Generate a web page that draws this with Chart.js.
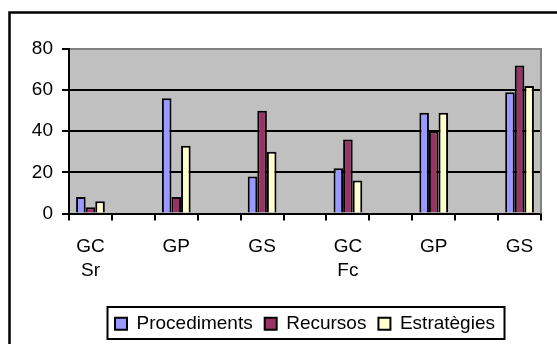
<!DOCTYPE html>
<html>
<head>
<meta charset="utf-8">
<script src="https://cdn.jsdelivr.net/npm/chart.js@4/dist/chart.umd.min.js"></script>
<style>
  html, body { margin: 0; padding: 0; background: #fff; overflow: hidden; }
  canvas { display: block; }
</style>
</head>
<body>
<canvas id="chart" width="557" height="344"></canvas>
<script>
// Categories: one group per pair of letters, with empty slots between groups
const categories = [["GC", "Sr"], "", "GP", "", "GS", "", ["GC", "Fc"], "", "GP", "", "GS"];
const procediments = [8, null, 56, null, 18, null, 22, null, 49, null, 59];
const recursos = [3, null, 8, null, 50, null, 36, null, 40, null, 72];
const estrategies = [6, null, 33, null, 30, null, 16, null, 49, null, 62];
const yTicks = [0, 20, 40, 60, 80];

const FONT = { family: "'Liberation Sans', Arial, sans-serif", size: 19, lineHeight: 1.27 };

// Plot background, outer frame and the grey top/right plot border
const framePlugin = {
  id: 'frame',
  beforeDraw(chart) {
    const { ctx, chartArea: a } = chart;
    ctx.save();
    ctx.fillStyle = '#ffffff';
    ctx.fillRect(0, 0, chart.width, chart.height);
    ctx.fillStyle = '#c0c0c0';
    ctx.fillRect(a.left, a.top, a.right - a.left, a.bottom - a.top);
    ctx.strokeStyle = '#000';
    ctx.lineWidth = 2.5;
    ctx.strokeRect(9.5, 12.5, chart.width + 40, chart.height + 40);
    ctx.restore();
  },
  beforeDatasetsDraw(chart) {
    const { ctx, chartArea: a } = chart;
    ctx.save();
    ctx.strokeStyle = '#808080';
    ctx.lineWidth = 2;
    ctx.beginPath();
    ctx.moveTo(a.right, a.top - 1);
    ctx.lineTo(a.right, a.bottom);
    ctx.stroke();
    ctx.restore();
  },
  afterDraw(chart) {
    // Box around the legend entries
    const hb = chart.legend && chart.legend.legendHitBoxes;
    if (!hb || !hb.length) return;
    const first = hb[0], last = hb[hb.length - 1];
    const left = first.left - 8;
    const right = last.left + last.width + 9;
    const cy = first.top + first.height / 2;
    const { ctx } = chart;
    ctx.save();
    ctx.strokeStyle = '#000';
    ctx.lineWidth = 2;
    ctx.strokeRect(Math.round(left) + 0.5, Math.round(cy - 16.5), Math.round(right - left), 32);
    ctx.restore();
  }
};

new Chart(document.getElementById('chart'), {
  type: 'bar',
  data: {
    labels: categories,
    datasets: [
      { label: 'Procediments', data: procediments, backgroundColor: '#9999ff', borderColor: '#000', borderWidth: 2 },
      { label: 'Recursos', data: recursos, backgroundColor: '#993366', borderColor: '#000', borderWidth: 2 },
      { label: 'Estratègies', data: estrategies, backgroundColor: '#ffffcc', borderColor: '#000', borderWidth: 2 }
    ]
  },
  options: {
    responsive: false,
    animation: false,
    events: [],
    layout: { padding: { top: 49, right: 16, bottom: 0.75, left: 0 } },
    datasets: { bar: { categoryPercentage: 0.67, barPercentage: 1.0 } },
    scales: {
      x: {
        offset: true,
        grid: { display: true, offset: true, drawOnChartArea: false, drawTicks: true, tickLength: 7, tickColor: '#000', lineWidth: 2 },
        border: { display: true, color: '#000', width: 2 },
        ticks: { autoSkip: false, maxRotation: 0, minRotation: 0, padding: 14, color: '#000', font: FONT },
        afterFit(scale) { scale.height = 88.75; }
      },
      y: {
        min: 0,
        max: 80,
        afterBuildTicks(scale) { scale.ticks = yTicks.map(v => ({ value: v })); },
        grid: {
          color: (c) => (c.tick && c.tick.value === 80 ? '#808080' : '#000'),
          lineWidth: 2,
          tickLength: 7,
          tickColor: '#000'
        },
        border: { display: true, color: '#000', width: 2 },
        ticks: { padding: 9, color: '#000', font: FONT },
        afterFit(scale) { scale.width = 69; }
      }
    },
    plugins: {
      legend: {
        position: 'bottom',
        fullSize: false,
        labels: { boxWidth: 12, boxHeight: 12, padding: 12, color: '#000', font: FONT }
      },
      tooltip: { enabled: false }
    }
  },
  plugins: [framePlugin]
});
</script>
</body>
</html>
